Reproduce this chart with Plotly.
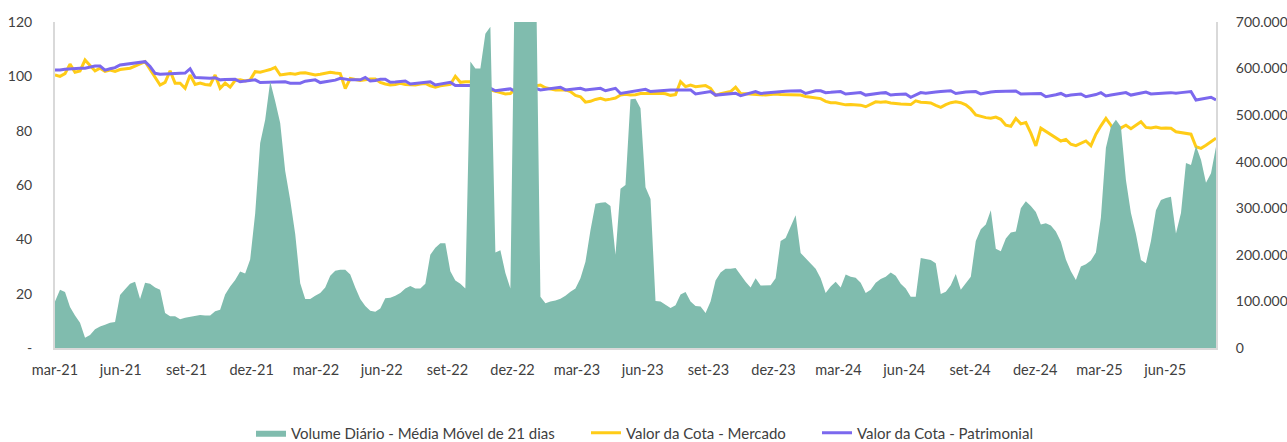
import pandas as pd
import plotly.graph_objects as go

# Weekly readings starting 2021-03-01
start_date = "2021-03-01"

volume_mil = [
    100,125,120,88,70,54,22,28,40,46,
    50,54,56,114,126,138,142,105,140,138,
    130,125,75,68,68,62,65,67,70,71,
    70,70,79,82,115,132,146,164,160,190,
    289,440,490,572,530,483,380,318,245,139,
    105,105,112,118,130,155,166,168,168,158,
    130,105,90,80,78,85,107,108,112,118,
    128,133,128,128,138,200,215,225,225,165,
    145,138,128,615,600,600,675,690,205,210,
    161,128,900,900,900,900,900,110,96,100,
    102,106,112,121,128,150,185,253,310,312,
    313,305,200,342,350,534,535,515,345,320,
    101,100,92,86,92,115,120,100,90,89,
    75,100,145,162,170,170,172,157,142,130,
    150,134,135,135,150,230,236,260,285,204,
    193,182,170,150,118,132,142,130,158,153,
    151,140,118,125,140,148,153,162,155,138,
    128,110,110,193,191,189,182,116,121,135,
    159,125,139,153,230,255,265,296,213,208,
    235,248,250,300,315,305,292,265,268,263,
    250,228,190,165,146,175,180,188,205,280,
    430,475,490,475,361,290,245,189,182,230,
    296,318,322,325,246,290,397,393,434,404,
    355,375,432,
]

cota_mercado = [
    100.5,100.0,101.0,104.5,101.5,102.0,106.0,104.0,102.0,103.0,
    101.8,102.3,101.8,102.5,102.8,103.0,103.8,104.6,105.4,102.5,
    99.5,96.8,97.8,102.0,97.5,97.5,95.6,100.5,97.0,97.5,
    97.0,96.8,100.5,95.6,97.5,96.0,98.5,98.7,98.3,98.7,
    101.7,101.5,102.0,102.5,103.3,100.5,100.8,101.0,100.8,101.2,
    101.3,100.8,100.5,100.8,101.2,101.5,101.2,101.0,95.5,99.2,
    98.8,98.5,98.7,99.0,99.0,97.8,97.2,96.8,97.0,97.4,
    97.0,96.8,96.8,97.2,97.4,96.5,96.0,96.5,96.8,97.0,
    100.0,97.8,98.0,98.0,98.0,97.4,97.2,95.0,94.4,94.0,
    93.5,93.7,95.5,96.5,96.2,95.6,96.5,96.8,95.8,95.3,
    95.0,95.0,95.0,94.4,93.0,92.5,90.5,90.8,91.5,91.9,
    91.3,91.6,92.0,93.1,93.4,93.1,93.2,93.7,93.6,93.7,
    93.7,93.8,93.6,93.0,93.3,98.0,96.2,96.8,96.2,96.4,
    96.6,95.6,93.0,93.6,94.0,94.4,96.0,93.7,93.6,93.5,
    93.3,93.2,93.1,93.3,93.5,93.3,93.2,93.1,93.1,93.1,
    92.6,92.4,92.2,91.8,90.8,90.3,90.3,90.0,89.5,89.6,
    89.5,89.4,88.8,89.8,90.6,90.5,90.6,90.2,89.9,89.8,
    89.7,89.6,91.0,90.5,90.4,90.2,89.3,88.6,89.6,90.3,
    90.6,90.3,89.5,88.0,85.8,85.3,84.8,84.6,85.0,84.2,
    82.0,81.6,84.5,82.5,83.0,79.1,74.4,80.9,79.8,78.4,
    77.5,76.2,76.8,75.0,74.5,75.3,76.2,74.5,78.7,81.8,
    84.5,82.0,79.0,81.0,82.0,80.7,82.0,83.3,81.2,81.0,
    81.3,80.9,81.0,80.9,79.6,79.3,79.2,78.7,74.1,73.5,
    74.6,76.0,77.2,
]

cota_patrimonial = [
    102.3,102.3,102.6,102.8,102.8,103.0,103.0,103.5,103.8,103.8,
    102.3,102.8,103.2,104.2,104.4,104.6,104.8,105.2,105.4,103.6,
    101.1,100.8,100.8,100.9,101.0,101.1,101.2,102.8,99.6,99.5,
    99.4,99.3,99.5,98.7,98.8,98.9,98.9,98.0,98.3,98.5,
    98.7,97.7,97.8,97.8,97.8,97.9,98.0,97.5,97.5,97.5,
    98.2,98.5,98.7,97.7,98.0,98.3,98.6,99.3,99.0,98.7,
    98.7,98.7,99.6,98.3,98.5,98.9,98.9,97.8,97.9,98.1,
    98.3,97.2,97.4,97.6,97.8,98.0,96.8,97.1,97.4,97.8,
    96.6,96.6,96.6,96.6,95.6,95.6,95.6,95.6,94.7,95.0,
    95.2,95.4,94.4,94.6,95.0,95.3,95.6,95.0,95.3,95.6,
    95.8,96.0,95.0,95.2,95.4,95.6,95.0,95.2,95.4,95.6,
    94.7,95.2,95.6,93.7,94.0,94.4,94.6,94.8,95.2,94.4,
    94.6,94.8,95.0,95.0,95.0,95.0,95.0,95.0,93.5,93.8,
    94.0,94.4,93.1,93.3,93.5,93.7,93.8,92.9,93.4,93.8,
    94.4,93.7,93.9,94.1,94.3,94.4,94.5,94.6,94.7,94.7,
    93.7,94.2,94.7,94.7,94.0,94.1,94.3,94.4,93.5,93.7,
    93.9,94.0,93.1,93.4,93.7,93.9,94.0,93.1,93.3,93.4,
    93.5,92.3,93.1,94.0,93.8,93.9,94.2,94.4,94.5,94.7,
    93.7,94.0,94.2,94.3,94.4,93.5,93.9,94.2,94.4,94.4,
    94.5,94.5,94.6,93.5,93.6,93.6,93.7,93.7,92.5,92.8,
    93.2,93.7,92.8,93.1,93.3,93.5,92.5,92.9,93.3,94.0,
    92.8,93.1,93.4,93.8,94.0,93.1,93.5,93.9,94.2,93.5,
    93.7,93.8,93.9,94.0,93.8,94.0,94.2,94.4,91.3,91.6,
    91.9,92.3,91.3,
]

x_tick_labels = ["mar-21", "jun-21", "set-21", "dez-21", "mar-22", "jun-22",
                 "set-22", "dez-22", "mar-23", "jun-23", "set-23", "dez-23",
                 "mar-24", "jun-24", "set-24", "dez-24", "mar-25", "jun-25"]
left_tick_vals = [0, 20, 40, 60, 80, 100, 120]
left_tick_text = ["-", "20", "40", "60", "80", "100", "120"]
right_tick_vals = [0, 100000, 200000, 300000, 400000, 500000, 600000, 700000]

series_names = ["Volume Diário - Média Móvel de 21 dias",
                "Valor da Cota - Mercado",
                "Valor da Cota - Patrimonial"]

def weekly(n):
    return pd.date_range(start_date, periods=n, freq="7D")

x_tick_vals = pd.date_range(start_date, periods=len(x_tick_labels), freq="3MS")

FONT = "Lato"
TXT = "#404040"
AXC = "#D9D9D9"
W, H = 1287, 442

fig = go.Figure()
fig.add_trace(go.Scatter(
    x=weekly(len(volume_mil)), y=[v * 1000 for v in volume_mil],
    name=series_names[0], yaxis="y2", mode="lines", legend="legend",
    line=dict(width=0, color="#80BCAE"), fill="tozeroy", fillcolor="#80BCAE",
))
fig.add_trace(go.Scatter(
    x=weekly(len(cota_mercado)), y=cota_mercado,
    name=series_names[1], mode="lines", legend="legend2",
    line=dict(width=3, color="#FFCC17"),
))
fig.add_trace(go.Scatter(
    x=weekly(len(cota_patrimonial)), y=cota_patrimonial,
    name=series_names[2], mode="lines", legend="legend3",
    line=dict(width=3, color="#7B68EE"),
))

end_date = weekly(len(volume_mil))[-1]

def leg(left_px):
    return dict(orientation="h", xref="container", yref="container",
                x=left_px / W, xanchor="left",
                y=(H - 433) / H, yanchor="middle",
                font=dict(family=FONT, size=15, color=TXT),
                itemwidth=30, bgcolor="rgba(0,0,0,0)")

fig.update_layout(
    width=W, height=H,
    margin=dict(l=55, r=71, t=22, b=94, autoexpand=False),
    paper_bgcolor="white", plot_bgcolor="white",
    font=dict(family=FONT, size=14, color=TXT),
    separators=",.",
    showlegend=True,
    legend=leg(251),
    legend2=leg(586),
    legend3=leg(817),
    xaxis=dict(type="date", range=[x_tick_vals[0], end_date],
               tickvals=list(x_tick_vals), ticktext=x_tick_labels,
               tickfont=dict(size=14.5),
               showgrid=False, zeroline=False, showline=True, linecolor=AXC,
               linewidth=2, ticks="", ticklabelstandoff=8, automargin=False),
    yaxis=dict(range=[0, 120], tickvals=left_tick_vals, ticktext=left_tick_text,
               showgrid=False, zeroline=False, showline=True, linecolor=AXC,
               linewidth=2, ticks="", ticklabelstandoff=18, automargin=False),
    yaxis2=dict(range=[0, 700000], tickvals=right_tick_vals, tickformat=",d",
                overlaying="y", side="right",
                showgrid=False, zeroline=False, showline=True, linecolor=AXC,
                linewidth=2, ticks="", ticklabelstandoff=15, automargin=False),
)

fig.write_html("out.html", config={"displayModeBar": False},
               post_script="document.body.style.margin='0';document.body.style.overflow='hidden';")
